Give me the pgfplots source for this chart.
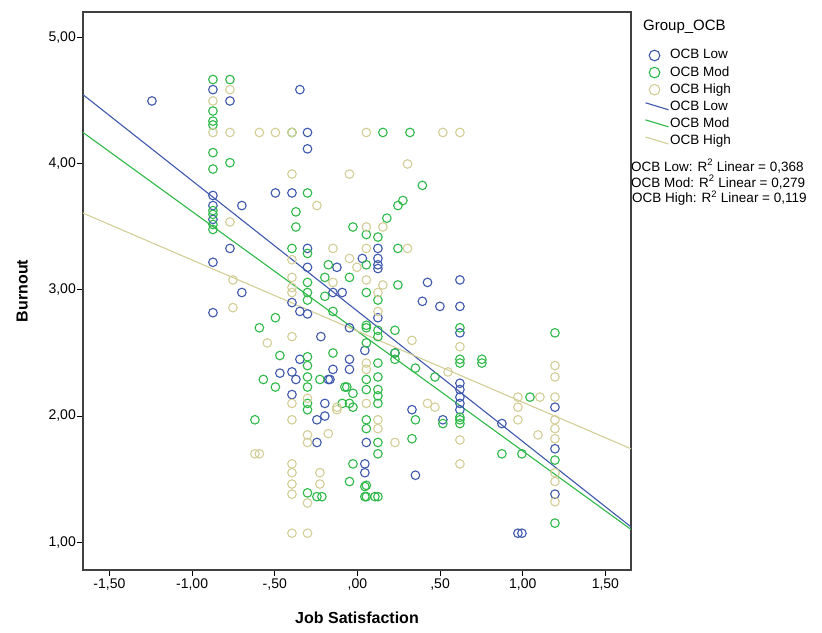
\documentclass[border=0pt]{standalone}
\usepackage{fontspec}
\setmainfont{Liberation Sans}
\usepackage{pgfplots}
\pgfplotsset{compat=1.18}
\definecolor{ocbLow}{HTML}{3E58AC}
\definecolor{ocbMod}{HTML}{2EB848}
\definecolor{ocbHigh}{HTML}{D3CE97}

\pgfplotsset{
  ocbmark/.style={only marks, mark=o, mark size=4.3pt,
    mark options={line width=1.1pt}},
  markimg/.style={legend image code/.code={
    \path[draw=none, fill=none] (0pt,-5pt) rectangle (23pt,5pt);
    \draw[##1, mark size=5.3pt] plot coordinates {(9pt,0pt)};}},
  lineimg/.style={legend image code/.code={
    \path[draw=none, fill=none] (0pt,-5pt) rectangle (23pt,5pt);
    \draw[##1] (0pt,4pt) -- (23pt,-3pt);}},
}

\begin{document}
\begin{tikzpicture}
\path[use as bounding box] (0pt,0pt) rectangle (822pt,632pt);

\begin{axis}[
  at={(83pt,62pt)}, anchor=south west,
  scale only axis, width=548pt, height=558pt,
  xmin=-1.66, xmax=1.655, ymin=0.778, ymax=5.206,
  axis line style={black!75, line width=1.1pt},
  xtick={-1.5,-1,-0.5,0,0.5,1,1.5},
  xticklabels={{-1,50},{-1,00},{-,50},{,00},{,50},{1,00},{1,50}},
  ytick={1,2,3,4,5},
  yticklabels={{1,00},{2,00},{3,00},{4,00},{5,00}},
  tick align=outside, major tick length=6pt,
  xtick pos=bottom, ytick pos=left,
  tick style={black, line width=1pt},
  tick label style={font=\fontsize{14}{16}\selectfont, inner sep=1pt},
  xticklabel style={yshift=-2pt},
  /pgf/number format/assume math mode=true,
  xlabel={Job Satisfaction}, ylabel={Burnout},
  label style={font=\fontsize{16}{18}\selectfont\bfseries},
  xlabel style={at={(axis description cs:0.5,-0.086)}, anchor=center},
  ylabel style={at={(axis description cs:-0.111,0.5)}, anchor=center},
  legend style={at={(1.0255,0.9355)}, anchor=north west, draw=none,
    fill=none, inner sep=0pt, outer sep=0pt, row sep=2.1pt,
    font=\fontsize{13.5}{15}\selectfont,
    nodes={inner sep=1pt, text height=10pt, text depth=3pt}},
  legend cell align=left,
]

% OCB Low
\addplot[ocbmark, ocbLow, markimg] coordinates {
(-1.243,4.50) (-0.874,4.59) (-0.771,4.50) (-0.874,3.75) (-0.874,3.67)
(-0.874,3.56) (-0.874,3.22) (-0.874,2.82) (-0.699,3.67) (-0.771,3.33)
(-0.699,2.98) (-0.496,3.77) (-0.348,4.59) (-0.302,4.25) (-0.302,4.12)
(-0.396,3.77) (-0.302,3.33) (-0.302,3.18) (-0.124,3.18) (-0.396,2.90)
(-0.348,2.83) (-0.302,2.81) (-0.148,2.98) (-0.092,2.98) (-0.048,2.70)
(-0.221,2.63) (0.124,3.33) (0.030,3.25) (0.124,3.25) (0.124,3.20)
(0.124,3.17) (0.424,3.06) (0.620,3.08) (0.393,2.91) (0.499,2.87)
(0.620,2.87) (0.620,2.66) (0.124,2.78) (0.045,2.52) (-0.048,2.45)
(-0.048,2.37) (-0.148,2.37) (-0.166,2.29) (-0.348,2.45) (-0.469,2.34)
(-0.396,2.35) (-0.372,2.29) (-0.176,2.29) (-0.396,2.17) (-0.197,2.10)
(-0.245,1.97) (-0.197,2.00) (-0.245,1.79) (0.045,1.62) (0.045,1.55)
(0.330,2.05) (0.351,1.53) (0.054,1.79) (0.874,1.94) (1.195,2.07)
(1.195,1.74) (1.195,1.38) (0.971,1.07) (0.995,1.07) (0.620,2.26)
(0.620,2.21) (0.620,2.15) (0.620,2.10) (0.620,2.05) (0.517,1.97)
(0.227,2.50)
};
\addlegendentry{OCB Low}

% OCB Mod
\addplot[ocbmark, ocbMod, markimg] coordinates {
(-0.874,4.67) (-0.771,4.67) (-0.874,4.42) (-0.874,4.34) (-0.874,4.31)
(-0.874,4.09) (-0.874,3.96) (-0.771,4.01) (-0.874,3.63) (-0.874,3.60)
(-0.874,3.52) (-0.874,3.48) (-0.396,4.25) (-0.302,3.77) (-0.372,3.62)
(-0.372,3.50) (-0.396,3.33) (-0.302,3.29) (-0.176,3.20) (-0.197,3.10)
(-0.302,3.06) (-0.302,2.98) (-0.197,2.95) (-0.148,2.83) (-0.496,2.78)
(-0.593,2.70) (-0.027,3.50) (0.154,4.25) (0.318,4.25) (0.393,3.83)
(0.275,3.71) (0.245,3.67) (0.178,3.57) (0.054,3.44) (0.124,3.42)
(0.245,3.33) (0.054,3.20) (-0.048,3.10) (0.245,3.04) (0.054,2.98)
(0.124,2.92) (-0.302,2.92) (0.054,2.70) (0.124,2.68) (0.227,2.68)
(0.620,2.70) (1.195,2.66) (0.054,2.58) (0.124,2.63) (0.054,2.72)
(-0.148,2.50) (0.227,2.50) (0.227,2.45) (0.620,2.45) (0.620,2.42)
(0.753,2.45) (0.753,2.42) (0.124,2.42) (0.351,2.38) (0.469,2.31)
(0.054,2.29) (0.124,2.31) (0.620,1.99) (0.620,1.97) (0.620,1.94)
(-0.064,2.23) (-0.027,2.18) (0.054,2.21) (0.124,2.21) (0.124,2.16)
(0.124,2.10) (-0.027,2.07) (0.054,1.97) (0.054,1.90) (0.351,1.97)
(0.517,1.94) (1.044,2.15) (0.124,1.79) (0.330,1.82) (0.124,1.70)
(0.874,1.70) (0.995,1.70) (1.195,1.65) (-0.027,1.62) (-0.048,1.48)
(0.054,1.45) (0.054,1.36) (0.124,1.36) (1.195,1.15) (-0.469,2.48)
(-0.302,2.47) (-0.302,2.40) (-0.569,2.29) (-0.496,2.23) (-0.302,2.31)
(-0.302,2.23) (-0.227,2.29) (-0.076,2.23) (-0.092,2.10) (-0.048,2.10)
(-0.302,2.10) (-0.302,2.05) (-0.620,1.97) (-0.302,1.39) (-0.245,1.36)
(-0.215,1.36) (0.045,1.44) (0.045,1.36) (0.106,1.36)
};
\addlegendentry{OCB Mod}

% OCB High
\addplot[ocbmark, ocbHigh, markimg] coordinates {
(-0.874,4.50) (-0.874,4.25) (-0.771,4.59) (-0.771,4.25) (-0.593,4.25)
(-0.496,4.25) (-0.396,4.25) (0.054,4.25) (0.517,4.25) (0.620,4.25)
(-0.771,3.54) (-0.753,3.08) (-0.753,2.86) (-0.396,3.92) (-0.048,3.92)
(0.303,4.00) (-0.245,3.67) (0.054,3.50) (0.154,3.50) (-0.396,3.24)
(-0.148,3.33) (0.054,3.33) (0.303,3.33) (-0.048,3.25) (-0.003,3.18)
(-0.396,3.10) (-0.396,3.02) (0.054,3.08) (-0.148,3.06) (0.124,2.98)
(-0.396,2.98) (0.154,3.04) (0.124,2.83) (-0.396,2.63) (-0.545,2.58)
(0.330,2.60) (0.620,2.55) (0.054,2.42) (0.054,2.37) (1.195,2.40)
(1.195,2.31) (0.548,2.35) (0.054,2.10) (-0.124,2.07) (0.124,1.97)
(0.124,1.90) (0.424,2.10) (0.469,2.07) (0.971,2.15) (0.971,2.07)
(1.104,2.15) (1.195,2.15) (1.195,1.97) (1.195,1.90) (0.971,1.97)
(0.620,1.81) (0.227,1.79) (1.195,1.82) (1.092,1.85) (1.195,1.55)
(1.195,1.48) (0.620,1.62) (1.195,1.32) (-0.396,2.10) (-0.302,2.14)
(-0.124,2.05) (-0.396,1.97) (-0.302,1.85) (-0.302,1.79) (-0.176,1.86)
(-0.593,1.70) (-0.620,1.70) (-0.396,1.62) (-0.396,1.55) (-0.396,1.46)
(-0.396,1.38) (-0.302,1.31) (-0.227,1.55) (-0.227,1.46) (-0.396,1.07)
(-0.302,1.07)
};
\addlegendentry{OCB High}

% fit lines
\addplot[ocbLow, line width=1.1pt, lineimg] coordinates {(-1.66,4.55) (1.655,1.12)};
\addlegendentry{OCB Low}
\addplot[ocbMod, line width=1.1pt, lineimg] coordinates {(-1.66,4.25) (1.655,1.10)};
\addlegendentry{OCB Mod}
\addplot[ocbHigh, line width=1.1pt, lineimg] coordinates {(-1.66,3.61) (1.655,1.74)};
\addlegendentry{OCB High}
\end{axis}

\node[anchor=west, inner sep=0pt, font=\fontsize{15}{17}\selectfont] at (643pt,605pt) {Group\_OCB};
\node[anchor=west, inner sep=0pt, font=\fontsize{13.5}{15}\selectfont] at (631pt,466pt) {OCB Low: R\textsuperscript{2} Linear = 0,368};
\node[anchor=west, inner sep=0pt, font=\fontsize{13.5}{15}\selectfont] at (631pt,450pt) {OCB Mod: R\textsuperscript{2} Linear = 0,279};
\node[anchor=west, inner sep=0pt, font=\fontsize{13.5}{15}\selectfont] at (632pt,434pt) {OCB High: R\textsuperscript{2} Linear = 0,119};
\end{tikzpicture}
\end{document}
